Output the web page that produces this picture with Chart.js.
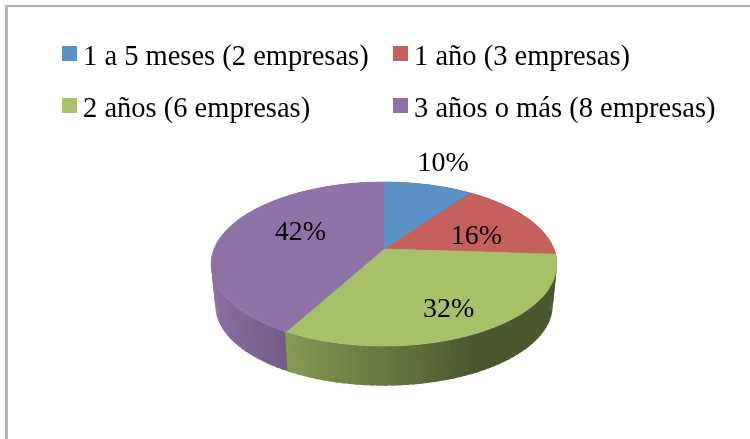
<!DOCTYPE html>
<html>
<head>
<meta charset="utf-8">
<style>
  html, body { margin: 0; padding: 0; background: #fff; }
  #marco { position: absolute; left: 5px; top: 5px; width: 745px; height: 434px; border-left: 3px solid #b4b4b4; border-top: 2px solid #b0b0b0; box-sizing: border-box; }
  canvas { position: absolute; left: 0; top: 0; }
</style>
<script src="https://cdn.jsdelivr.net/npm/chart.js@4"></script>
</head>
<body>
<div id="marco"></div>
<canvas id="grafico" width="750" height="439"></canvas>
<script>
const categorias = ['1 a 5 meses (2 empresas)', '1 año (3 empresas)', '2 años (6 empresas)', '3 años o más (8 empresas)'];
const porcentajes = [10, 16, 32, 42];
const colores = ['#5b92c6', '#c6605c', '#a6c168', '#8f73a8'];

// posicion de las etiquetas: radio relativo y ajuste vertical
const radioEtiqueta = [1.4, 0.63, 0.7, 0.52];
const ajusteEtiqueta = [0, 8, 6, -6];

// columnas y filas de la leyenda
const leyendaX = [62, 393];
const leyendaY = [46, 98];

const fuente = '"Liberation Serif", serif';

// perspectiva del disco
const K = 0.183;
const ESCALA_Y = 0.4665;
const ESCALA_BASE = 0.975;
const PROFUNDIDAD = 42;

function proyectar(arc, angulo, f) {
  const u = Math.cos(angulo) * f;
  const v = -Math.sin(angulo) * f;
  const w = 1 + K * v;
  return {
    x: arc.x + arc.outerRadius * u / w,
    y: arc.y - arc.outerRadius * ESCALA_Y * v / w
  };
}

function sombrear(hex, factor) {
  const n = parseInt(hex.slice(1), 16);
  const c = [n >> 16, (n >> 8) & 255, n & 255].map(x => Math.round(x * factor));
  return `rgb(${c[0]},${c[1]},${c[2]})`;
}

const pastel3d = {
  id: 'pastel3d',
  beforeDatasetDraw(chart) {
    const ctx = chart.ctx;
    const arcos = chart.getDatasetMeta(0).data;
    const paso = 2 * Math.PI / 180;
    const solape = 0.5 * Math.PI / 180;

    // pared lateral en bandas, de atras hacia delante
    const bandas = [];
    arcos.forEach((arc, i) => {
      for (let a = arc.startAngle; a < arc.endAngle; a += paso) {
        bandas.push({ arc, i, a, b: Math.min(a + paso, arc.endAngle) });
      }
    });
    bandas.sort((p, q) => Math.sin(p.a) - Math.sin(q.a));
    bandas.forEach(({ arc, i, a, b }) => {
      const puntos = [];
      // cada banda se curva con el borde y solapa un poco a la siguiente
      for (let c = a - solape; c < b + solape; c += 0.01) puntos.push(proyectar(arc, c, 1));
      puntos.push(proyectar(arc, b + solape, 1));
      const base = p => ({
        x: arc.x + (p.x - arc.x) * ESCALA_BASE,
        y: arc.y + (p.y - arc.y) * ESCALA_BASE + PROFUNDIDAD
      });
      const t = Math.min(1, (Math.cos((a + b) / 2) + 1) / 1.45);
      ctx.fillStyle = sombrear(colores[i], 1 - 0.55 * t);
      ctx.beginPath();
      puntos.forEach((p, n) => n ? ctx.lineTo(p.x, p.y) : ctx.moveTo(p.x, p.y));
      puntos.slice().reverse().forEach(p => {
        const q = base(p);
        ctx.lineTo(q.x, q.y);
      });
      ctx.closePath();
      ctx.fill();
    });

    // cara superior
    arcos.forEach((arc, i) => {
      ctx.fillStyle = colores[i];
      ctx.strokeStyle = colores[i];
      ctx.lineWidth = 0.5;
      ctx.beginPath();
      ctx.moveTo(arc.x, arc.y);
      for (let a = arc.startAngle; a < arc.endAngle; a += 0.01) {
        const p = proyectar(arc, a, 1);
        ctx.lineTo(p.x, p.y);
      }
      const fin = proyectar(arc, arc.endAngle, 1);
      ctx.lineTo(fin.x, fin.y);
      ctx.closePath();
      ctx.fill();
      ctx.stroke();
    });

    // etiquetas de porcentaje
    ctx.fillStyle = '#000';
    ctx.font = `28px ${fuente}`;
    ctx.textAlign = 'center';
    ctx.textBaseline = 'middle';
    arcos.forEach((arc, i) => {
      const medio = (arc.startAngle + arc.endAngle) / 2;
      const p = proyectar(arc, medio, radioEtiqueta[i]);
      ctx.fillText(porcentajes[i] + '%', p.x, p.y + ajusteEtiqueta[i]);
    });

    // leyenda en dos columnas
    ctx.font = `28.5px ${fuente}`;
    ctx.textAlign = 'left';
    chart.data.labels.forEach((texto, i) => {
      const x = leyendaX[i % 2];
      const y = leyendaY[Math.floor(i / 2)];
      ctx.fillStyle = colores[i];
      ctx.fillRect(x, y, 15, 15);
      ctx.fillStyle = '#000';
      ctx.fillText(texto, x + 21, y + 12);
    });

    return false;
  }
};

new Chart(document.getElementById('grafico'), {
  type: 'pie',
  data: {
    labels: categorias,
    datasets: [{ data: porcentajes, backgroundColor: colores, borderWidth: 0 }]
  },
  options: {
    responsive: false,
    animation: false,
    layout: { padding: { left: 214, right: 196, top: 79, bottom: 20 } },
    plugins: {
      legend: { display: false },
      title: { display: false },
      tooltip: { enabled: false }
    }
  },
  plugins: [pastel3d]
});
</script>
</body>
</html>
